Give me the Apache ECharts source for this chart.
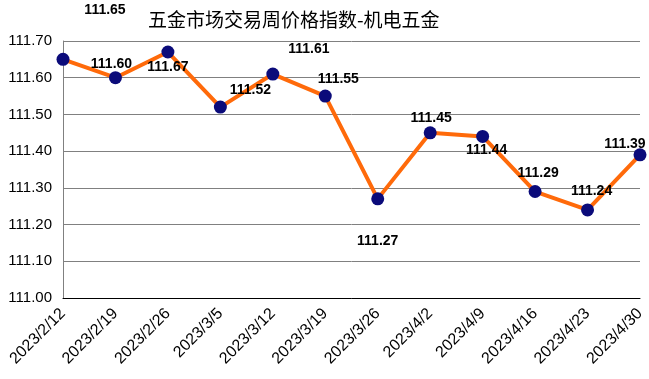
<!DOCTYPE html>
<html><head><meta charset="utf-8">
<script src="https://cdn.jsdelivr.net/npm/echarts@6/dist/echarts.min.js"></script>
<style>html,body{margin:0;padding:0;background:#fff}#c{width:649px;height:379px}</style>
</head><body><div id="c"></div>
<script>
const categories = ['2023/2/12','2023/2/19','2023/2/26','2023/3/5','2023/3/12','2023/3/19','2023/3/26','2023/4/2','2023/4/9','2023/4/16','2023/4/23','2023/4/30'];
const values = [111.65,111.60,111.67,111.52,111.61,111.55,111.27,111.45,111.44,111.29,111.24,111.39];
const yTicks = [111.00,111.10,111.20,111.30,111.40,111.50,111.60,111.70];
const labelOffsets = [[42,-49],[-4,-14],[0,15],[30,-17],[36,-25],[13,-17],[0,42],[1,-15],[4,14],[3,-18],[4,-19],[-15,-11]];

const chart = echarts.init(document.getElementById('c'), null, {renderer:'canvas'});
chart.setOption({
  animation:false,
  backgroundColor:'#fff',
  title:{text:'五金市场交易周价格指数-机电五金',left:143,top:5,
    textStyle:{fontFamily:'Noto Sans CJK SC',fontSize:19,fontWeight:'normal',color:'#000'}},
  grid:{left:63,right:9,top:41,bottom:81},
  xAxis:{type:'category',data:categories,boundaryGap:false,
    axisLine:{lineStyle:{color:'#000',width:1}},
    axisTick:{show:false},
    axisLabel:{rotate:45,fontFamily:'Liberation Sans, Arial',fontSize:16,color:'#000',margin:13,interval:0},
    splitLine:{show:false}},
  yAxis:{type:'value',min:yTicks[0],max:yTicks[yTicks.length-1],interval:0.1,
    axisLine:{show:true,lineStyle:{color:'#808080'}},
    axisTick:{show:false},
    axisLabel:{fontFamily:'Liberation Sans, Arial',fontSize:15,color:'#000',margin:11,formatter:v=>v.toFixed(2)},
    splitLine:{lineStyle:{color:'#808080',width:1}}},
  series:[{type:'line',
    data:values.map((v,i)=>({value:v,label:{offset:labelOffsets[i]}})),
    lineStyle:{color:'#FF6A0A',width:4},
    itemStyle:{color:'#0B0B7A'},
    symbol:'circle',symbolSize:13,
    label:{show:true,position:'inside',fontFamily:'Liberation Sans, Arial',fontSize:14,fontWeight:'bold',color:'#000',
      formatter:p=>p.value.toFixed(2)}
  }]
});
</script></body></html>
